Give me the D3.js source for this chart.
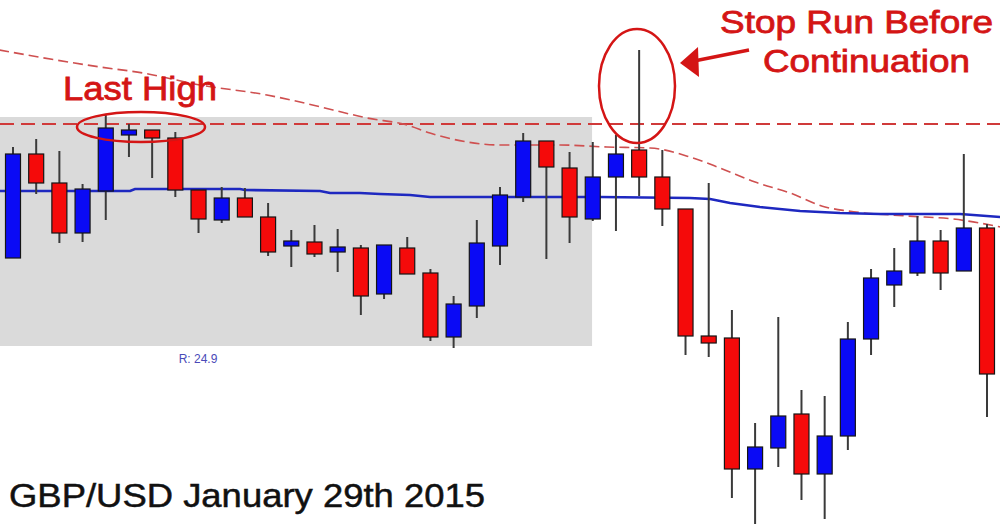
<!DOCTYPE html>
<html><head><meta charset="utf-8">
<script src="https://cdn.jsdelivr.net/npm/d3@7"></script>
<style>html,body{margin:0;padding:0;background:#fff;}svg{display:block;}</style>
</head><body><svg id="c" width="1000" height="524"></svg>
<script>
// ---- data (prices) ----
const bars = d3.range(43);
const opens  = [1.5142,1.5246,1.5217,1.5167,1.5209,1.5265,1.5270,1.5262,1.5210,1.5180,1.5202,1.5183,1.5154,1.5158,1.5148,1.5152,1.5106,1.5152,1.5127,1.5063,1.5094,1.5154,1.5203,1.5259,1.5232,1.5181,1.5223,1.5250,1.5223,1.5191,1.5064,1.5062,1.4931,1.4952,1.4986,1.4926,1.4964,1.5061,1.5115,1.5127,1.5159,1.5129,1.5172];
const highs  = [1.5253,1.5261,1.5249,1.5216,1.5285,1.5276,1.5270,1.5268,1.5210,1.5213,1.5212,1.5197,1.5170,1.5175,1.5171,1.5155,1.5155,1.5163,1.5131,1.5104,1.5180,1.5213,1.5267,1.5259,1.5248,1.5258,1.5265,1.5350,1.5250,1.5191,1.5217,1.5090,1.4977,1.5083,1.5010,1.5004,1.5078,1.5131,1.5152,1.5184,1.5170,1.5246,1.5176];
const lows   = [1.5142,1.5206,1.5157,1.5158,1.5180,1.5243,1.5222,1.5203,1.5167,1.5177,1.5183,1.5144,1.5133,1.5143,1.5128,1.5085,1.5101,1.5126,1.5059,1.5052,1.5082,1.5135,1.5198,1.5141,1.5157,1.5179,1.5169,1.5204,1.5174,1.5045,1.5043,1.4902,1.4870,1.4933,1.4900,1.4881,1.4950,1.5045,1.5093,1.5124,1.5110,1.5129,1.4983];
const closes = [1.5246,1.5217,1.5167,1.5211,1.5272,1.5270,1.5262,1.5210,1.5181,1.5202,1.5183,1.5148,1.5159,1.5146,1.5153,1.5104,1.5155,1.5126,1.5063,1.5096,1.5157,1.5205,1.5259,1.5233,1.5183,1.5223,1.5246,1.5223,1.5191,1.5064,1.5057,1.4931,1.4953,1.4984,1.4926,1.4964,1.5061,1.5122,1.5129,1.5159,1.5127,1.5172,1.5026];

// moving averages: [bar position, price]
const maFastX = [-0.6,5.05,5.26,9.79,10.0,13.24,13.67,14.96,15.83,17.12,17.98,25.31,29.19,30.06,30.92,32.21,33.94,35.66,37.39,40.84,42.6];
const maFastY = [1.5209,1.5209,1.5211,1.5211,1.5210,1.5209,1.5207,1.5207,1.5206,1.5205,1.5203,1.5203,1.5202,1.5201,1.5197,1.5193,1.5189,1.5187,1.5186,1.5186,1.5183];
const maSlowX = [-0.6,3.75,5.61,8.06,10.95,12.38,13.80,15.27,16.99,17.98,19.58,21.0,23.59,25.61,27.47,29.19,30.49,32.0,33.51,35.02,36.0,38.55,40.53,42.6];
const maSlowY = [1.5350,1.5333,1.5327,1.5315,1.5305,1.5298,1.5290,1.5282,1.5275,1.5267,1.5258,1.5255,1.5255,1.5253,1.5252,1.5243,1.5232,1.5218,1.5207,1.5193,1.5189,1.5184,1.5181,1.5173];

const lastHigh = 1.5276;
const rangeBox = {from:-0.6, to:24.97, top:1.5283, bottom:1.5054, label:"R: 24.9"};

const title = "GBP/USD January 29th 2015";
const note1 = "Last High";
const note2a = "Stop Run Before";
const note2b = "Continuation";

// ---- scales ----
const W = 1000, H = 524;
const x = d3.scaleLinear().domain([0, 42]).range([13, 987]);
const y = d3.scaleLinear().domain([1.5400, 1.4876]).range([0, H]);
const bodyW = 15;

const svg = d3.select("#c");

// range box
svg.append("rect")
  .attr("x", x(rangeBox.from)).attr("y", y(rangeBox.top))
  .attr("width", x(rangeBox.to) - x(rangeBox.from))
  .attr("height", y(rangeBox.bottom) - y(rangeBox.top))
  .attr("fill", "#dadada");
svg.append("text")
  .attr("x", 198).attr("y", y(rangeBox.bottom) + 17)
  .attr("text-anchor", "middle")
  .attr("font-family", "Liberation Sans, Arial, sans-serif")
  .attr("font-size", 12).attr("fill", "#4a4ab8")
  .text(rangeBox.label);

// last high dashed line
svg.append("line")
  .attr("x1", 0).attr("x2", W)
  .attr("y1", y(lastHigh)).attr("y2", y(lastHigh))
  .attr("stroke", "#d03a3a").attr("stroke-width", 2)
  .attr("stroke-dasharray", "14,7");

// slow MA (dashed red)
const slow = maSlowX.map((v, i) => [v, maSlowY[i]]);
svg.append("path")
  .attr("d", d3.line().x(d => x(d[0])).y(d => y(d[1])).curve(d3.curveMonotoneX)(slow))
  .attr("fill", "none").attr("stroke", "#cf5050").attr("stroke-width", 1.6)
  .attr("stroke-dasharray", "10,5");

// fast MA (blue)
const fast = maFastX.map((v, i) => [v, maFastY[i]]);
svg.append("path")
  .attr("d", d3.line().x(d => x(d[0])).y(d => y(d[1]))(fast))
  .attr("fill", "none").attr("stroke", "#1e28c0").attr("stroke-width", 2.6);

// candles
const candles = bars.map(i => ({i, o: opens[i], h: highs[i], l: lows[i], c: closes[i]}));
const g = svg.append("g");
g.selectAll("line.wick").data(candles).join("line")
  .attr("class", "wick")
  .attr("x1", d => x(d.i)).attr("x2", d => x(d.i))
  .attr("y1", d => y(d.h)).attr("y2", d => y(d.l))
  .attr("stroke", "#3a3a3a").attr("stroke-width", 2);
g.selectAll("rect.body").data(candles).join("rect")
  .attr("class", "body")
  .attr("x", d => x(d.i) - bodyW / 2)
  .attr("y", d => y(Math.max(d.o, d.c)))
  .attr("width", bodyW)
  .attr("height", d => Math.max(3, Math.abs(y(d.o) - y(d.c))))
  .attr("fill", d => d.c >= d.o ? "#0a0af5" : "#f50a0a")
  .attr("stroke", "#151515").attr("stroke-width", 1.2);

// annotations
const red = "#d41515";
svg.append("ellipse").attr("cx", 141).attr("cy", 127).attr("rx", 64).attr("ry", 15)
  .attr("fill", "none").attr("stroke", red).attr("stroke-width", 2.5);
svg.append("ellipse").attr("cx", 637).attr("cy", 86).attr("rx", 38).attr("ry", 57)
  .attr("fill", "none").attr("stroke", red).attr("stroke-width", 2.5);
svg.append("line").attr("x1", 749).attr("y1", 50).attr("x2", 694).attr("y2", 61)
  .attr("stroke", red).attr("stroke-width", 3.5);
svg.append("path").attr("d", "M680,63 L698,47 L699,77 Z").attr("fill", red);

const font = "Liberation Sans, Arial, sans-serif";
svg.append("text").attr("x", 63).attr("y", 100)
  .attr("font-family", font).attr("font-size", 33).attr("fill", red)
  .attr("stroke", red).attr("stroke-width", 0.8)
  .attr("textLength", 154).attr("lengthAdjust", "spacingAndGlyphs")
  .text(note1);
svg.append("text").attr("x", 720).attr("y", 33)
  .attr("font-family", font).attr("font-size", 32).attr("fill", red)
  .attr("stroke", red).attr("stroke-width", 0.8)
  .attr("textLength", 273).attr("lengthAdjust", "spacingAndGlyphs")
  .text(note2a);
svg.append("text").attr("x", 763).attr("y", 72)
  .attr("font-family", font).attr("font-size", 32).attr("fill", red)
  .attr("stroke", red).attr("stroke-width", 0.8)
  .attr("textLength", 207).attr("lengthAdjust", "spacingAndGlyphs")
  .text(note2b);
svg.append("text").attr("x", 9).attr("y", 507)
  .attr("font-family", font).attr("font-size", 34).attr("fill", "#111")
  .attr("stroke", "#111").attr("stroke-width", 0.5)
  .attr("textLength", 476).attr("lengthAdjust", "spacingAndGlyphs")
  .text(title);
</script></body></html>
